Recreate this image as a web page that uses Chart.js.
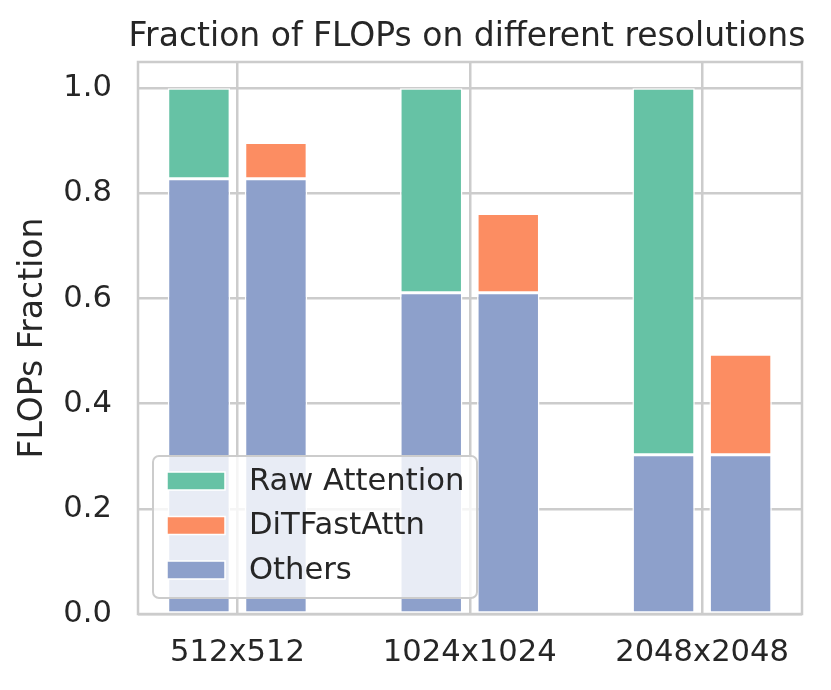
<!DOCTYPE html>
<html>
<head>
<meta charset="utf-8">
<script src="https://cdn.jsdelivr.net/npm/chart.js@4.4.0/dist/chart.umd.min.js"></script>
<style>
    html, body { margin: 0; padding: 0; background: #fff; }
    #contenedor { width: 831px; height: 690px; }
</style>
</head>
<body>
<div id="contenedor"><canvas id="graficoFlops"></canvas></div>
<script>
// Datos
const categorias = ['512x512', '1024x1024', '2048x2048'];
const otros = [0.828, 0.611, 0.303];
const atencionRaw = [0.172, 0.389, 0.697];
const ditFastAttn = [0.069, 0.151, 0.191];
const ticksY = [0, 0.2, 0.4, 0.6, 0.8, 1.0];
const nombresLeyenda = ['Raw Attention', 'DiTFastAttn', 'Others'];
const coloresLeyenda = ['#66c2a5', '#fc8d62', '#8da0cb'];

const grisTexto = '#262626';
const grisGrid = '#cccccc';
Chart.defaults.font.family = "'DejaVu Sans', sans-serif";
Chart.defaults.color = grisTexto;

function puntos(valores) {
    return valores.map(function(v, i) { return { x: i, y: v }; });
}

function serie(etiqueta, valores, color, pila) {
    return {
        label: etiqueta,
        data: puntos(valores),
        backgroundColor: color,
        borderColor: '#ffffff',
        borderWidth: 1.5,
        borderSkipped: false,
        stack: pila,
        barPercentage: 0.81,
        categoryPercentage: 0.663
    };
}

// el titulo va centrado sobre el area, sin comprimirse
const tituloCentrado = {
    id: 'tituloCentrado',
    afterLayout(chart) {
        const a = chart.chartArea;
        const centro = (a.left + a.right) / 2 - 3;
        chart.titleBlock.left = centro - 420;
        chart.titleBlock.right = centro + 420;
    }
};

// marco gris alrededor del area del grafico
const marco = {
    id: 'marco',
    afterDatasetsDraw(chart) {
        const a = chart.chartArea;
        const ctx = chart.ctx;
        ctx.save();
        ctx.strokeStyle = grisGrid;
        ctx.lineWidth = 2.5;
        ctx.strokeRect(a.left, a.top, a.right - a.left, a.bottom - a.top);
        ctx.restore();
    }
};

// leyenda dentro del area, abajo a la izquierda
const leyenda = {
    id: 'leyenda',
    afterDraw(chart) {
        const a = chart.chartArea;
        const ctx = chart.ctx;
        const w = 324, h = 142;
        const x0 = a.left + 15;
        const y0 = a.bottom - 16 - h;
        ctx.save();
        ctx.beginPath();
        ctx.roundRect(x0, y0, w, h, 6);
        ctx.fillStyle = 'rgba(255,255,255,0.8)';
        ctx.fill();
        ctx.strokeStyle = grisGrid;
        ctx.lineWidth = 2;
        ctx.stroke();
        ctx.font = "30.6px 'DejaVu Sans', sans-serif";
        ctx.textBaseline = 'middle';
        ctx.textAlign = 'left';
        for (let i = 0; i < nombresLeyenda.length; i++) {
            const yc = y0 + 25 + i * 44.5;
            ctx.fillStyle = coloresLeyenda[i];
            ctx.fillRect(x0 + 14, yc - 9, 58, 18);
            ctx.strokeStyle = '#ffffff';
            ctx.lineWidth = 1.5;
            ctx.strokeRect(x0 + 14, yc - 9, 58, 18);
            ctx.fillStyle = grisTexto;
            ctx.fillText(nombresLeyenda[i], x0 + 96, yc + 1);
        }
        ctx.restore();
    }
};

const ctx = document.getElementById('graficoFlops').getContext('2d');
const graficoFlops = new Chart(ctx, {
    type: 'bar',
    data: {
        datasets: [
            serie('Others', otros, coloresLeyenda[2], 'raw'),
            serie('Raw Attention', atencionRaw, coloresLeyenda[0], 'raw'),
            serie('Others', otros, coloresLeyenda[2], 'fast'),
            serie('DiTFastAttn', ditFastAttn, coloresLeyenda[1], 'fast')
        ]
    },
    options: {
        responsive: true,
        maintainAspectRatio: false,
        animation: false,
        layout: { padding: { top: 0, right: 29, bottom: 0, left: 0 } },
        plugins: {
            legend: { display: false },
            tooltip: { enabled: false },
            title: {
                display: true,
                fullSize: false,
                text: 'Fraction of FLOPs on different resolutions',
                color: grisTexto,
                font: { size: 33, weight: 'normal' },
                padding: { top: 17.5, bottom: 4.9 }
            }
        },
        scales: {
            x: {
                type: 'linear',
                min: -0.428,
                max: 2.43,
                offset: false,
                afterBuildTicks: function(scale) {
                    scale.ticks = categorias.map(function(c, i) { return { value: i }; });
                },
                afterFit: function(scale) { scale.height = 76; },
                ticks: {
                    callback: function(v) { return categorias[v]; },
                    padding: 21,
                    maxRotation: 0,
                    autoSkip: false,
                    color: grisTexto,
                    font: { size: 30.6 }
                },
                grid: { color: grisGrid, lineWidth: 2.5, drawTicks: false, offset: false },
                border: { display: false }
            },
            y: {
                stacked: true,
                min: 0,
                max: 1.05,
                afterBuildTicks: function(scale) {
                    scale.ticks = ticksY.map(function(v) { return { value: v }; });
                },
                afterFit: function(scale) { scale.width = 138; },
                ticks: {
                    callback: function(v) { return v.toFixed(1); },
                    padding: 26,
                    color: grisTexto,
                    font: { size: 30.6 }
                },
                grid: { color: grisGrid, lineWidth: 2.5, drawTicks: false },
                border: { display: false },
                title: {
                    display: true,
                    text: 'FLOPs Fraction',
                    color: grisTexto,
                    font: { size: 33 },
                    padding: { top: 14, bottom: 0 }
                }
            }
        }
    },
    plugins: [tituloCentrado, marco, leyenda]
});
</script>
</body>
</html>
